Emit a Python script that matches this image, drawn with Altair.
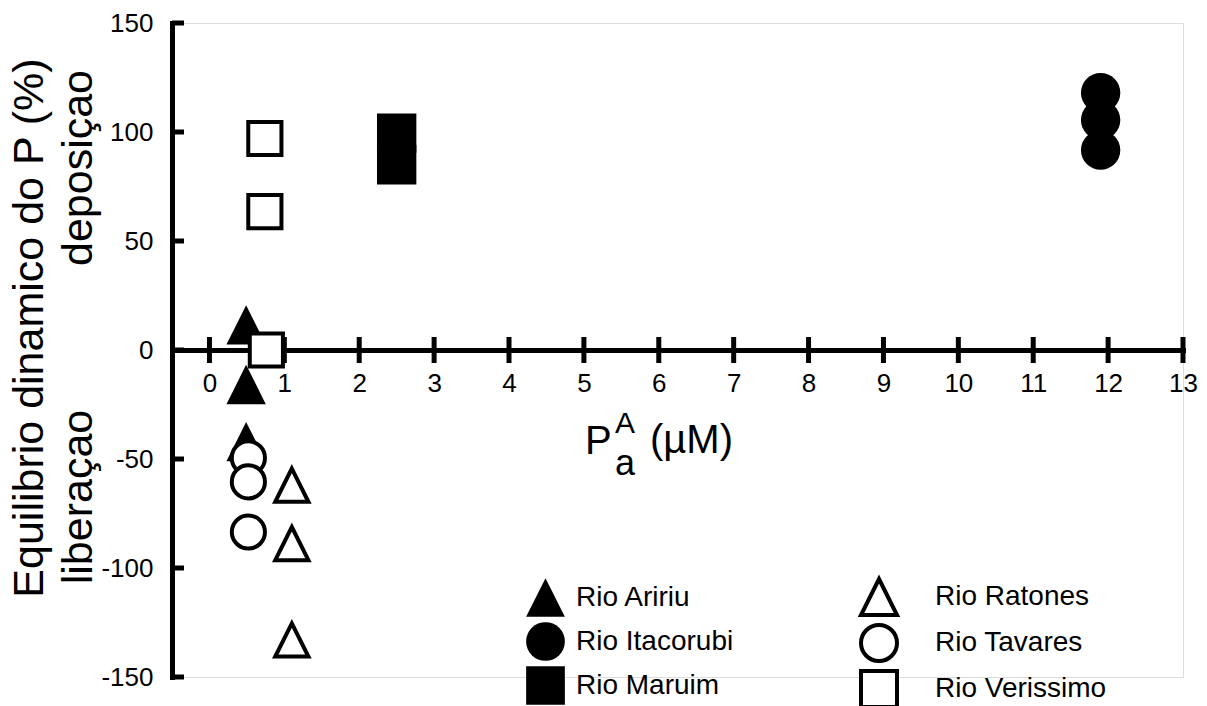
import altair as alt
import pandas as pd

FONT = "Liberation Sans"

# ---------------- data ----------------
x_ticks = [0, 1, 2, 3, 4, 5, 6, 7, 8, 9, 10, 11, 12, 13]
y_ticks = [-150, -100, -50, 0, 50, 100, 150]

filled_series = ["Rio Aririu", "Rio Itacorubi", "Rio Maruim"]
open_series = ["Rio Ratones", "Rio Tavares", "Rio Verissimo"]

aririu_x = [0.49, 0.49, 0.49]
aririu_y = [11.5, -15.8, -42.0]
itacorubi_x = [11.9, 11.9, 11.9]
itacorubi_y = [118.0, 105.5, 91.7]
maruim_x = [2.5, 2.5]
maruim_y = [99.5, 85.0]

ratones_x = [1.1, 1.1, 1.1]
ratones_y = [-62.0, -88.8, -133.0]
tavares_x = [0.52, 0.52, 0.52]
tavares_y = [-49.5, -60.5, -83.5]
verissimo_x = [0.74, 0.74, 0.76]
verissimo_y = [97.0, 63.5, 0.0]

filled_rows = []
for name, xs_, ys_ in [("Rio Aririu", aririu_x, aririu_y),
                       ("Rio Itacorubi", itacorubi_x, itacorubi_y),
                       ("Rio Maruim", maruim_x, maruim_y)]:
    for a, b in zip(xs_, ys_):
        filled_rows.append({"series": name, "x": a, "y": b})
open_rows = []
for name, xs_, ys_ in [("Rio Ratones", ratones_x, ratones_y),
                       ("Rio Tavares", tavares_x, tavares_y),
                       ("Rio Verissimo", verissimo_x, verissimo_y)]:
    for a, b in zip(xs_, ys_):
        open_rows.append({"series": name, "x": a, "y": b})

TRI = "M0,-1L1,1L-1,1Z"

# ---------------- scales / axes ----------------
xs = alt.Scale(domain=[-0.5, 13], nice=False, zero=False)
ys = alt.Scale(domain=[-150, 150], nice=False, zero=False)

x_axis = alt.Axis(values=x_ticks, orient="bottom", offset=-327, domainWidth=5,
                  domainColor="black", domainCap="square", ticks=False, tickSize=0,
                  labelFontSize=26, labelFont=FONT, labelColor="black", labelPadding=20,
                  labelFlush=False, labelOverlap=False, labelExpr="datum.value",
                  grid=False, title=None)
y_axis = alt.Axis(values=y_ticks, orient="left", domainWidth=5, domainColor="black",
                  domainCap="square", ticks=False, tickSize=0,
                  labelFontSize=26, labelFont=FONT, labelColor="black", labelPadding=19,
                  labelFlush=False, labelOverlap=False, labelExpr="datum.value",
                  grid=False, title=None)


def X():
    return alt.X("x:Q", scale=xs, axis=x_axis)


def Y():
    return alt.Y("y:Q", scale=ys, axis=y_axis)


xtick_layer = alt.Chart(alt.Data(values=[{"x": v} for v in x_ticks])).mark_rule(
    color="black", strokeWidth=5).encode(x=X(), y=alt.value(314), y2=alt.value(340))

ytick_layer = alt.Chart(alt.Data(values=[{"y": v} for v in y_ticks])).mark_rule(
    color="black", strokeWidth=5).encode(y=Y(), x=alt.value(0), x2=alt.value(12))

filled_layer = alt.Chart(pd.DataFrame(filled_rows)).mark_point(
    filled=True, color="black", size=1550, opacity=1, strokeWidth=0
).encode(
    x=X(), y=Y(),
    shape=alt.Shape("series:N",
                    scale=alt.Scale(domain=filled_series, range=[TRI, "circle", "square"]),
                    legend=alt.Legend(title=None, orient="none", legendX=354, legendY=555,
                                      symbolSize=1500, symbolFillColor="black",
                                      symbolStrokeColor="black", symbolStrokeWidth=0,
                                      symbolOpacity=1, labelFont=FONT, labelFontSize=28,
                                      labelColor="black", labelOffset=11, rowPadding=5,
                                      labelLimit=400, padding=0, direction="vertical")),
)

open_layer = alt.Chart(pd.DataFrame(open_rows)).mark_point(
    filled=False, color="black", fill="white", fillOpacity=1, strokeWidth=4,
    size=1100, opacity=1
).encode(
    x=X(), y=Y(),
    shape=alt.Shape("series:N",
                    scale=alt.Scale(domain=open_series, range=[TRI, "circle", "square"]),
                    legend=alt.Legend(title=None, orient="none", legendX=687, legendY=554,
                                      symbolSize=1296, symbolStrokeWidth=4,
                                      labelFont=FONT, labelFontSize=28,
                                      labelColor="black", labelOffset=36, rowPadding=-7,
                                      labelLimit=400, padding=0, direction="vertical")),
)


def label(text, x, y, size, angle=0, align="left"):
    kw = dict(text=text, font=FONT, fontSize=size, align=align,
              baseline="alphabetic", color="black")
    if angle:
        kw["angle"] = angle
    return alt.Chart(alt.Data(values=[{}])).mark_text(**kw).encode(
        x=alt.value(x), y=alt.value(y))


texts = [
    label("Equilibrio dinamico do P (%)", -129, 305, 43, angle=270, align="center"),
    label("deposiçao", -80, 145, 43, angle=270, align="center"),
    label("liberaçao", -80, 474, 43, angle=270, align="center"),
    label("P", 413, 431, 40),
    label("A", 443, 410, 30),
    label("a", 443, 452, 36),
    label("(µM)", 478, 430, 40),
]

chart = alt.layer(xtick_layer, ytick_layer, filled_layer, open_layer, *texts).resolve_scale(
    shape="independent"
).properties(
    width=1011, height=654,
    autosize=alt.AutoSizeParams(type="none"),
    padding={"left": 172, "top": 23, "right": 24, "bottom": 29},
    background="white",
).configure_view(stroke=None).configure(font=FONT)

chart.save("out.html", embed_options={"renderer": "svg", "actions": False})
